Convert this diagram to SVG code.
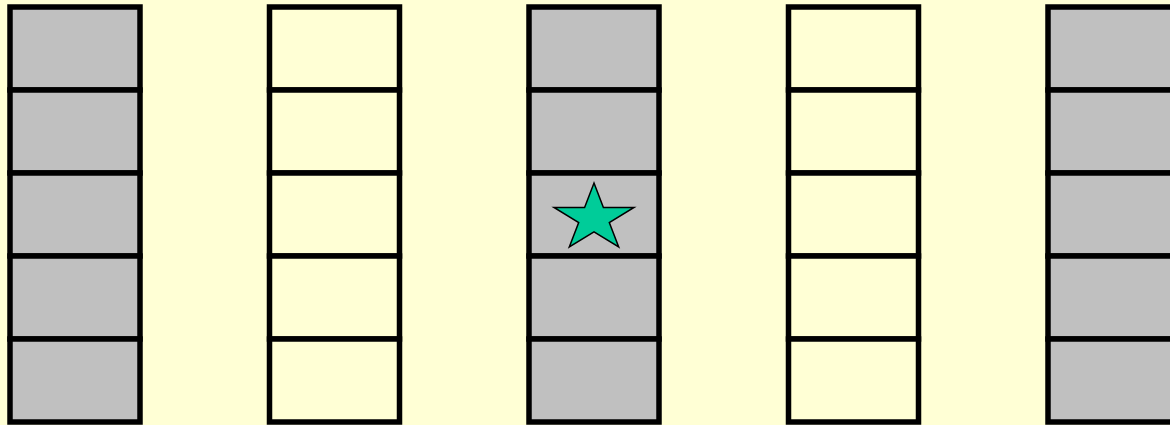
<svg xmlns="http://www.w3.org/2000/svg" width="1170" height="425" viewBox="0 0 1170 425">
  <style>
    .cell { stroke: #000; stroke-width: 5.5; }
    .gray { fill: #C0C0C0; }
    .yel { fill: #FFFFD5; }
    .star { fill: #00CC99; stroke: #000; stroke-width: 1.5; stroke-linejoin: miter; }
  </style>
  <defs>
    <g id="colshape">
      <rect class="cell" x="0" y="7" width="130" height="83"/>
      <rect class="cell" x="0" y="90" width="130" height="83"/>
      <rect class="cell" x="0" y="173" width="130" height="83"/>
      <rect class="cell" x="0" y="256" width="130" height="83"/>
      <rect class="cell" x="0" y="339" width="130" height="83"/>
    </g>
  </defs>
  <rect x="0" y="0" width="1170" height="425" fill="#FFFFD5"/>
  <g id="col1" class="gray"><use href="#colshape" x="10"/></g>
  <g id="col2" class="yel"><use href="#colshape" x="269.5"/></g>
  <g id="col3" class="gray"><use href="#colshape" x="529"/></g>
  <g id="col4" class="yel"><use href="#colshape" x="788.5"/></g>
  <g id="col5" class="gray"><use href="#colshape" x="1048"/></g>
  <g id="star">
    <polygon class="star" points="594,183 603.4,207.5 634,207.5 609.3,222.6 618.7,247 594,231.9 569.3,247 578.7,222.6 554,207.5 584.6,207.5"/>
  </g>
  <g id="connectors"/>
</svg>
